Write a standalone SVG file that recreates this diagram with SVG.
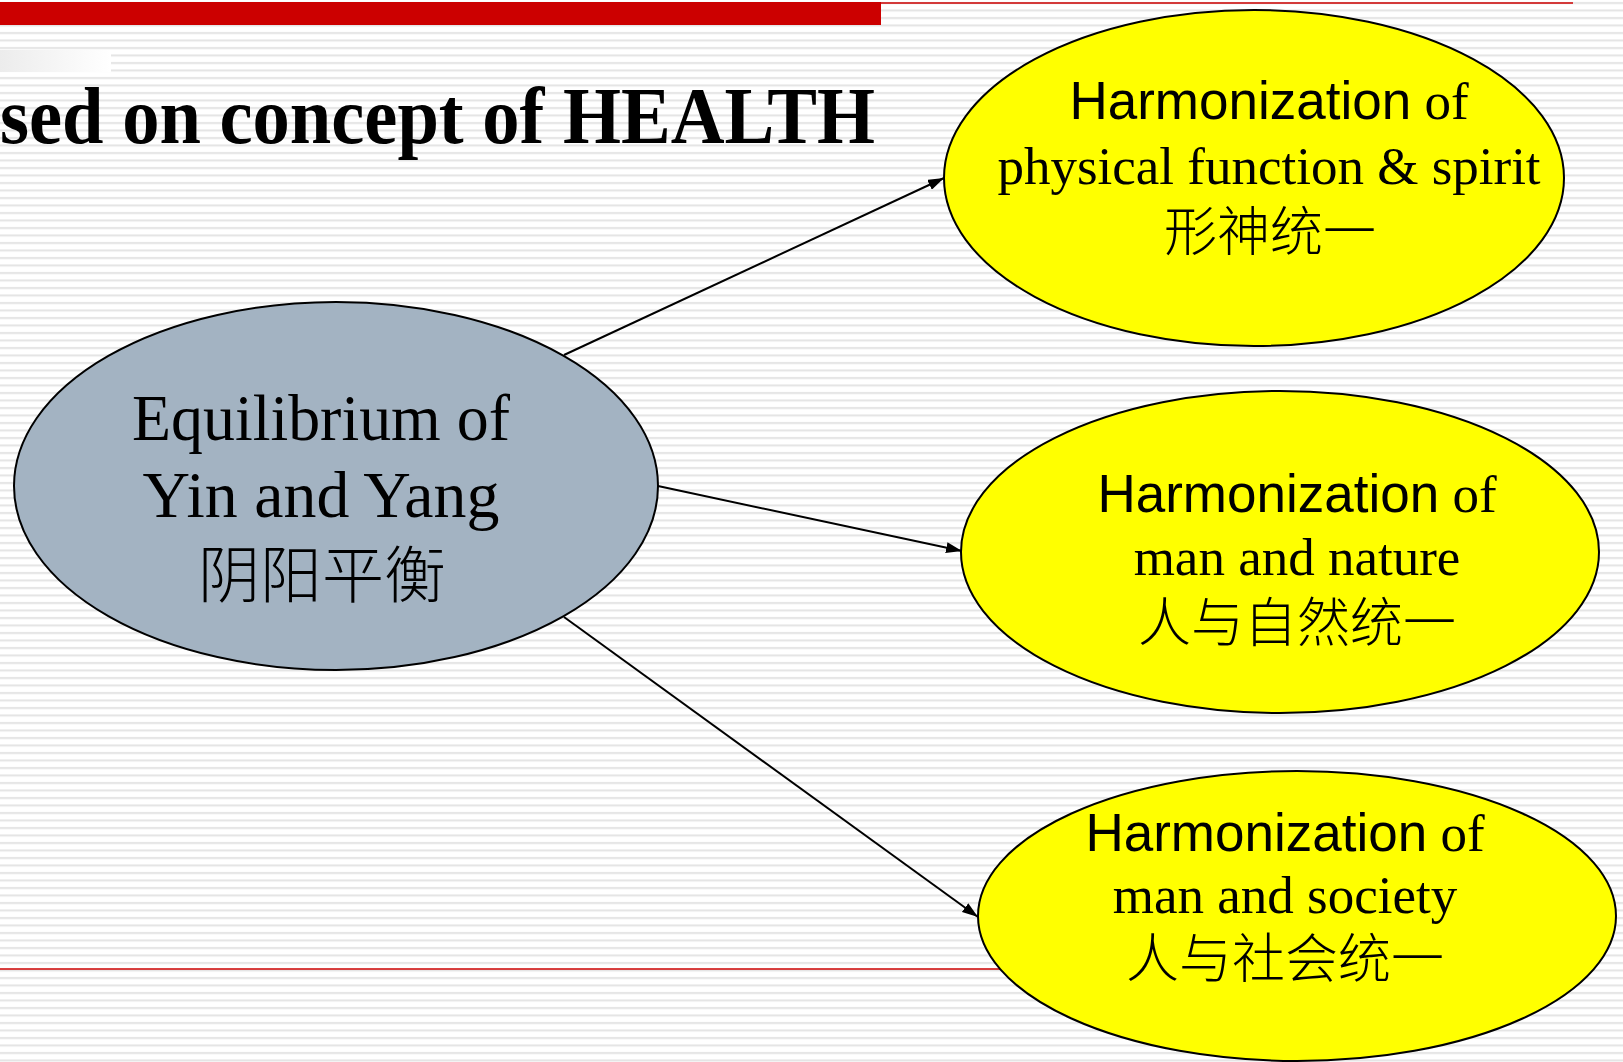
<svg xmlns="http://www.w3.org/2000/svg" width="1623" height="1062" viewBox="0 0 1623 1062">
  <defs>
    <pattern id="stripes" patternUnits="userSpaceOnUse" width="16" height="7.5">
      <rect x="0" y="0" width="16" height="7.5" fill="#ffffff"/>
      <rect x="0" y="2" width="16" height="2" fill="#e4e4e4"/>
    </pattern>
    <linearGradient id="fade" x1="0" y1="0" x2="1" y2="0">
      <stop offset="0" stop-color="#ececec"/>
      <stop offset="1" stop-color="#ffffff"/>
    </linearGradient>
    <marker id="arrow" viewBox="0 0 16 11" refX="16" refY="5.5" markerWidth="16" markerHeight="11" markerUnits="userSpaceOnUse" orient="auto">
      <path d="M0,0 L16,5.5 L0,11 Z" fill="#000000"/>
    </marker>
  </defs>
  <style>
    .node { stroke: #000000; stroke-width: 2; }
    .yellow { fill: #ffff00; }
    .gray { fill: #a3b3c2; }
    .serif { font-family: "Liberation Serif", "Times New Roman", serif; fill: #000000; }
    .sans { font-family: "Liberation Sans", Arial, sans-serif; fill: #000000; }
    .cjk { font-family: "Noto Sans CJK SC", sans-serif; font-weight: 300; fill: #000000; }
    .edge { stroke: #000000; stroke-width: 2; fill: none; marker-end: url(#arrow); }
  </style>

  <!-- background -->
  <rect x="0" y="0" width="1623" height="1062" fill="url(#stripes)"/>
  <rect x="0" y="50" width="111" height="22" fill="url(#fade)"/>
  <rect x="0" y="2" width="881" height="23" fill="#cc0000"/>
  <line x1="881" y1="3" x2="1573" y2="3" stroke="#cc0000" stroke-width="1.5"/>
  <line x1="0" y1="969" x2="1000" y2="969" stroke="#cc0000" stroke-width="1.5"/>

  <!-- title -->
  <text class="serif" x="0" y="143" font-size="80" font-weight="bold" textLength="875" lengthAdjust="spacingAndGlyphs">sed on concept of HEALTH</text>

  <!-- connectors -->
  <g id="connectors">
    <line class="edge" x1="564" y1="355" x2="944" y2="178"/>
    <line class="edge" x1="658" y1="486" x2="962" y2="551"/>
    <line class="edge" x1="564" y1="617" x2="978" y2="917"/>
  </g>

  <g id="node-yinyang">
    <ellipse class="node gray" cx="336" cy="486" rx="322" ry="184"/>
    <text class="serif" x="321" y="440" font-size="66" text-anchor="middle" textLength="378" lengthAdjust="spacingAndGlyphs">Equilibrium of</text>
    <text class="serif" x="321" y="517" font-size="66" text-anchor="middle" textLength="357" lengthAdjust="spacingAndGlyphs">Yin and Yang</text>
    <text class="cjk" x="322" y="598" font-size="62" text-anchor="middle">阴阳平衡</text>
  </g>

  <g id="node-spirit">
    <ellipse class="node yellow" cx="1254" cy="178" rx="310" ry="168"/>
    <text x="1269" y="119" font-size="53" text-anchor="middle"><tspan class="sans">Harmonization</tspan><tspan class="serif"> of</tspan></text>
    <text class="serif" x="1269" y="184" font-size="53" text-anchor="middle">physical function &amp; spirit</text>
    <text class="cjk" x="1270" y="251" font-size="53" text-anchor="middle">形神统一</text>
  </g>

  <g id="node-nature">
    <ellipse class="node yellow" cx="1280" cy="552" rx="319" ry="161"/>
    <text x="1297" y="512" font-size="53" text-anchor="middle"><tspan class="sans">Harmonization</tspan><tspan class="serif"> of</tspan></text>
    <text class="serif" x="1297" y="575" font-size="53" text-anchor="middle">man and nature</text>
    <text class="cjk" x="1297" y="642" font-size="53" text-anchor="middle">人与自然统一</text>
  </g>

  <g id="node-society">
    <ellipse class="node yellow" cx="1297" cy="916" rx="319" ry="145"/>
    <text x="1285" y="851" font-size="53" text-anchor="middle"><tspan class="sans">Harmonization</tspan><tspan class="serif"> of</tspan></text>
    <text class="serif" x="1285" y="913" font-size="53" text-anchor="middle">man and society</text>
    <text class="cjk" x="1285" y="978" font-size="53" text-anchor="middle">人与社会统一</text>
  </g>
</svg>
